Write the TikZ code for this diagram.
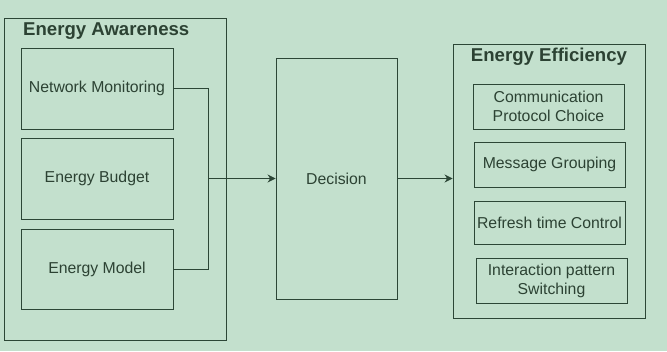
\documentclass[tikz,border=0pt]{standalone}
\usepackage{fontspec}
\setmainfont{Liberation Sans}
\usetikzlibrary{arrows.meta}

\definecolor{bgGreen}{RGB}{195,224,205}
\definecolor{lineDark}{RGB}{44,70,54}
\definecolor{textDark}{RGB}{44,66,51}

\tikzset{
  group/.style={draw=lineDark, line width=0.9pt},
  item/.style={draw=lineDark, line width=0.9pt, text=textDark, align=center,
    inner sep=0pt, font=\fontsize{15.8}{19}\selectfont},
  title/.style={text=textDark, inner sep=0pt, font=\fontsize{18.6}{21}\selectfont\bfseries},
  link/.style={draw=lineDark, line width=0.9pt},
}

\begin{document}
\begin{tikzpicture}[x=1pt,y=-1pt]
            \fill[bgGreen] (0,0) rectangle (667,351);
            \useasboundingbox (0,0) rectangle (667,351);

            % energy awareness
            \node[group, minimum width=222pt, minimum height=322pt] (aware) at (115,179) {};
            \node[title, anchor=west] (awareTitle) at (23,31) {Energy Awareness};
            \node[item, minimum width=152pt, minimum height=81pt] (netMon) at (97,88.5) {Network Monitoring};
            \node[item, minimum width=152pt, minimum height=81pt] (budget) at (97,178.5) {Energy Budget};
            \node[item, minimum width=152pt, minimum height=80pt] (model) at (97,269) {Energy Model};

            % decision
            \node[item, minimum width=121pt, minimum height=241pt] (decision) at (336.5,178.5) {Decision};

            % energy efficiency
            \node[group, minimum width=192pt, minimum height=274pt] (effic) at (549,181) {};
            \node[title] (efficTitle) at (549,57) {Energy Efficiency};
            \node[item, minimum width=151pt, minimum height=45pt] (proto) at (548.5,106.5) {Communication\\Protocol Choice};
            \node[item, minimum width=151pt, minimum height=45pt] (group) at (549.5,164.5) {Message Grouping};
            \node[item, minimum width=151pt, minimum height=43pt] (refresh) at (549.5,222.5) {Refresh time Control};
            \node[item, minimum width=151pt, minimum height=45pt] (switch) at (551.5,280.5) {Interaction pattern\\Switching};

            \coordinate (join) at (208,178.5);

            \draw[link] (netMon) -| (join);
            \draw[link] (model) -| (join);
            \draw[link, -{Stealth[length=8pt,width=8pt]}] (join) -- (decision);
            \draw[link, -{Stealth[length=8pt,width=8pt]}] (decision) -- (decision -| effic.west);
        \end{tikzpicture}
\end{document}
